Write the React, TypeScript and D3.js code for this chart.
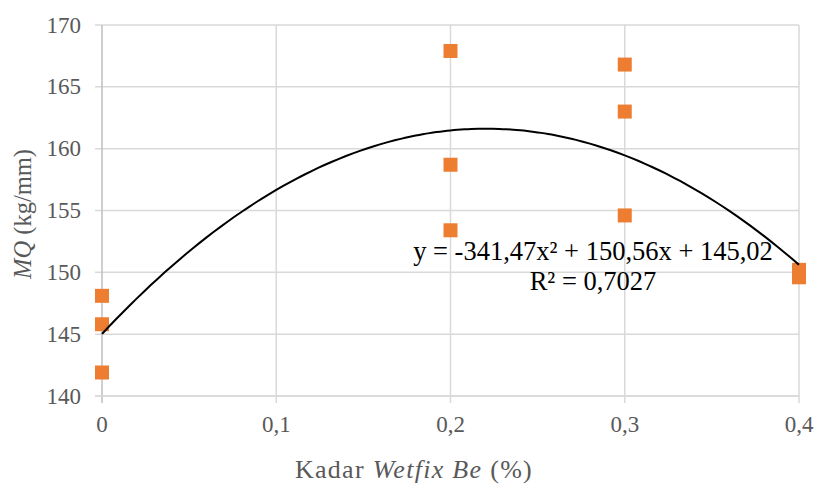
import React from "react";
import * as d3 from "d3";

const xTicks = [0, 0.1, 0.2, 0.3, 0.4];
const xTickLabels = ["0", "0,1", "0,2", "0,3", "0,4"];
const yTicks = [140, 145, 150, 155, 160, 165, 170];
const pointsX = [0, 0, 0, 0.2, 0.2, 0.2, 0.3, 0.3, 0.3, 0.4, 0.4];
const pointsY = [148.1, 145.8, 141.9, 167.9, 158.7, 153.4, 166.8, 163.0, 154.6, 150.2, 149.6];
const coefA = -341.47;
const coefB = 150.56;
const coefC = 145.02;
const eqLine1 = "y = -341,47x² + 150,56x + 145,02";
const eqLine2 = "R² = 0,7027";

const SERIF = "Liberation Serif";

export default function App() {
  const W = 816, H = 486;
  const x = d3.scaleLinear().domain([0, 0.4]).range([102, 799]);
  const y = d3.scaleLinear().domain([140, 170]).range([396, 25]);
  const curveXs = d3.range(0, 0.4001, 0.004);
  const line = d3.line<number>()
    .x((d) => x(d))
    .y((d) => y(coefA * d * d + coefB * d + coefC))
    .curve(d3.curveMonotoneX);
  const ms = 14;
  return (
    <div style={{ position: "absolute", left: 0, top: 0 }}>
      <svg width={W} height={H} style={{ display: "block", background: "#fff" }} fontFamily={SERIF}>
        {yTicks.map((t) => (
          <g key={"y" + t}>
            <line x1={95} x2={799} y1={y(t)} y2={y(t)} stroke="#d9d9d9" strokeWidth={1.5} />
            <text x={81} y={y(t)} dy="0.33em" textAnchor="end" fontSize={23} fill="#595959">{t}</text>
          </g>
        ))}
        {xTicks.map((t, i) => (
          <g key={"x" + t}>
            <line x1={x(t)} x2={x(t)} y1={25} y2={403} stroke={i === 0 ? "#bfbfbf" : "#d9d9d9"} strokeWidth={1.5} />
            <text x={x(t)} y={432} textAnchor="middle" fontSize={23} fill="#595959">{xTickLabels[i]}</text>
          </g>
        ))}
        <line x1={95} x2={799} y1={y(140)} y2={y(140)} stroke="#d9d9d9" strokeWidth={1.5} />
        {pointsX.map((px, i) => (
          <rect key={"p" + i} x={x(px) - ms / 2} y={y(pointsY[i]) - ms / 2} width={ms} height={ms} fill="#ED7D31" />
        ))}
        <path d={line(curveXs) || ""} fill="none" stroke="#000" strokeWidth={2} />
        <text x={593} y={260} textAnchor="middle" fontSize={26.5} fill="#000">{eqLine1}</text>
        <text x={593} y={290} textAnchor="middle" fontSize={26.5} fill="#000">{eqLine2}</text>
        <text transform="translate(31, 214) rotate(-90)" textAnchor="middle" fontSize={24.5} fill="#595959">
          <tspan fontStyle="italic">MQ</tspan> (kg/mm)
        </text>
        <text x={414} y={478} textAnchor="middle" fontSize={26} letterSpacing={1.3} fill="#595959">
          Kadar <tspan fontStyle="italic">Wetfix Be</tspan> (%)
        </text>
      </svg>
    </div>
  );
}
